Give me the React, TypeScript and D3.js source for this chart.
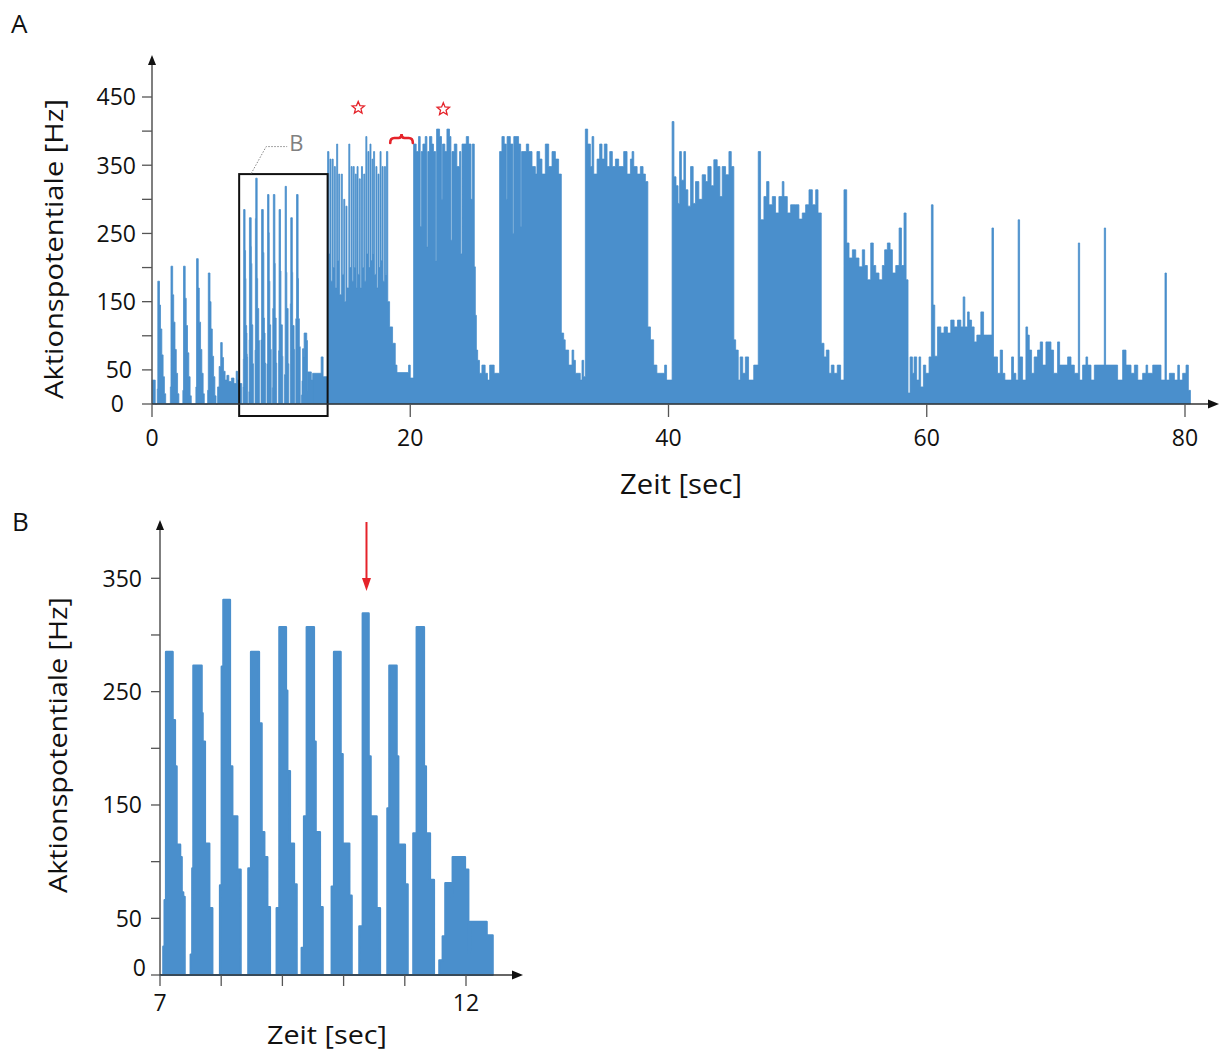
import React from "react";
import * as d3 from "d3";

type Pt = [number, number];

// ---------- Panel A data: firing-rate histogram (time [s], rate [Hz]) as step points ----------
const earlyA: Pt[] = [
  [0, 35], [0.25, 0],
  [0.41, 22], [0.45, 180], [0.58, 145], [0.66, 110], [0.76, 72], [0.86, 40], [0.96, 15], [1.06, 0],
  [1.42, 25], [1.47, 202], [1.6, 160], [1.68, 120], [1.78, 80], [1.88, 45], [1.98, 15], [2.08, 0],
  [2.39, 20], [2.44, 202], [2.57, 155], [2.65, 115], [2.75, 75], [2.85, 40], [2.95, 12], [3.04, 0],
  [3.4, 25], [3.45, 213], [3.58, 170], [3.66, 120], [3.76, 80], [3.86, 45], [3.96, 15], [4.05, 0],
  [4.31, 20], [4.36, 192], [4.49, 150], [4.57, 110], [4.67, 70], [4.77, 40], [4.87, 12], [4.96, 0],
  [5.08, 25], [5.2, 55], [5.32, 90], [5.44, 68], [5.54, 48], [5.66, 35], [5.8, 42], [5.95, 33],
  [6.15, 38], [6.35, 30], [6.52, 48], [6.62, 35], [6.78, 30], [6.95, 0],
];

// Bursts 7–12.4 s (shown enlarged in panel B)
const burstsB: Pt[] = [
  [7.0, 0],
  [7.054, 25], [7.075, 66], [7.098, 285], [7.207, 225], [7.245, 184], [7.272, 115], [7.33, 104], [7.355, 73], [7.38, 69], [7.403, 0],
  [7.501, 18], [7.527, 94], [7.545, 273], [7.681, 231], [7.697, 206], [7.735, 116], [7.806, 59], [7.855, 0],
  [7.98, 79], [8.008, 272], [8.035, 331], [8.144, 184], [8.182, 140], [8.264, 93], [8.318, 0],
  [8.443, 94], [8.487, 285], [8.618, 222], [8.661, 126], [8.705, 104], [8.754, 60], [8.797, 0],
  [8.906, 59], [8.95, 307], [9.059, 251], [9.081, 180], [9.124, 116], [9.19, 80], [9.233, 0],
  [9.315, 24], [9.353, 140], [9.397, 307], [9.516, 206], [9.544, 126], [9.614, 60], [9.658, 0],
  [9.805, 78], [9.843, 285], [9.952, 195], [9.985, 116], [10.094, 70], [10.132, 0],
  [10.257, 43], [10.312, 319], [10.41, 193], [10.442, 140], [10.54, 59], [10.595, 0],
  [10.715, 147], [10.747, 273], [10.867, 193], [10.894, 115], [11.003, 80], [11.047, 0],
  [11.139, 125], [11.194, 307], [11.314, 184], [11.346, 125], [11.412, 84], [11.477, 0],
  [11.564, 13], [11.619, 34], [11.662, 81], [11.755, 69], [11.782, 104], [11.984, 93], [12.038, 20],
  [12.065, 47], [12.338, 35], [12.436, 0],
];

const gapA: Pt[] = [[12.44, 45], [13.1, 69], [13.25, 40]];

const trainA: Pt[] = [
  [13.6, 370], [13.7, 220], [13.78, 359], [13.86, 180], [13.95, 359], [14.03, 200], [14.12, 348], [14.2, 170],
  [14.3, 381], [14.38, 210], [14.46, 337], [14.54, 160], [14.66, 337], [14.74, 190], [14.85, 300], [14.93, 150],
  [15.02, 290], [15.1, 170], [15.24, 381], [15.32, 200], [15.42, 348], [15.5, 180], [15.58, 348], [15.66, 200],
  [15.74, 337], [15.82, 170], [15.88, 348], [15.96, 190], [16.05, 330], [16.13, 170], [16.22, 348], [16.3, 200],
  [16.4, 337], [16.48, 180], [16.56, 392], [16.64, 220], [16.72, 370], [16.8, 200], [16.88, 381], [16.96, 210],
  [17.04, 359], [17.1, 220], [17.16, 370], [17.24, 190], [17.34, 348], [17.42, 170], [17.5, 337], [17.58, 200],
  [17.66, 370], [17.74, 210], [17.82, 348], [17.9, 180], [18.0, 348], [18.08, 190], [18.16, 370], [18.26, 150],
  [18.4, 113], [18.63, 89], [18.84, 57], [18.97, 46], [19.87, 57], [20.0, 38],
];

const block2A: Pt[] = [
  [20.26, 381], [20.46, 370], [20.64, 392], [20.77, 260], [20.85, 370], [20.98, 381], [21.16, 392], [21.29, 230],
  [21.36, 370], [21.49, 392], [21.67, 381], [21.8, 370], [21.96, 210], [22.04, 403], [22.27, 392], [22.42, 300],
  [22.5, 381], [22.68, 370], [22.84, 403], [23.04, 392], [23.15, 240], [23.23, 370], [23.41, 381], [23.61, 348],
  [23.82, 370], [23.92, 220], [24.01, 381], [24.34, 392], [24.52, 381], [24.7, 300], [24.8, 381],
  [24.96, 201], [25.04, 130], [25.12, 79], [25.22, 64], [25.36, 45], [25.55, 57], [25.8, 45], [25.98, 35],
  [26.15, 57], [26.5, 45],
];

const block3A: Pt[] = [
  [26.92, 370], [27.1, 392], [27.28, 381], [27.44, 300], [27.5, 392], [27.75, 381], [27.95, 250], [28.02, 392],
  [28.39, 381], [28.55, 260], [28.62, 370], [28.99, 381], [29.17, 370], [29.43, 348], [29.69, 337], [29.81, 370],
  [30.02, 359], [30.2, 337], [30.46, 381], [30.72, 348], [30.98, 370], [31.24, 359], [31.49, 337],
  [31.7, 104], [31.88, 94], [32.0, 79], [32.27, 57], [32.53, 79], [32.66, 64], [32.79, 45], [33.17, 35],
  [33.3, 64], [33.43, 40],
];

const block4A: Pt[] = [
  [33.56, 403], [33.74, 381], [33.95, 348], [34.08, 392], [34.21, 337], [34.47, 359], [34.67, 381], [34.85, 359],
  [35.03, 381], [35.24, 348], [35.45, 370], [35.65, 348], [35.89, 359], [36.14, 348], [36.4, 348], [36.53, 370],
  [36.79, 337], [37.05, 359], [37.18, 370], [37.31, 348], [37.57, 337], [37.82, 348], [38.03, 337], [38.21, 326],
  [38.4, 113], [38.6, 94], [38.85, 57], [39.1, 45], [39.7, 57], [39.85, 35],
];

const block5A: Pt[] = [
  [40.28, 414], [40.42, 333], [40.58, 320], [40.74, 294], [40.86, 370], [41.0, 328], [41.19, 370], [41.32, 314],
  [41.5, 290], [41.71, 348], [41.91, 294], [42.09, 326], [42.35, 300], [42.61, 336], [42.87, 326], [43.05, 348],
  [43.3, 320], [43.51, 358], [43.77, 348], [43.98, 304], [44.16, 348], [44.42, 336], [44.68, 370], [44.86, 348],
  [45.06, 94], [45.2, 79], [45.4, 35], [45.55, 69], [45.75, 45], [45.95, 69], [46.2, 35], [46.6, 57],
];

const block6A: Pt[] = [
  [46.95, 370], [47.13, 270], [47.39, 304], [47.6, 326], [47.78, 292], [48.04, 304], [48.29, 280], [48.55, 304],
  [48.81, 326], [48.94, 304], [49.2, 280], [49.46, 292], [49.84, 292], [50.1, 271], [50.36, 280], [50.62, 292],
  [50.88, 314], [51.14, 292], [51.4, 314], [51.58, 280],
  [51.83, 89], [52.04, 69], [52.22, 79], [52.43, 45], [52.61, 57], [52.82, 45], [53.07, 57], [53.33, 35],
];

const block7A: Pt[] = [
  [53.59, 314], [53.8, 236], [53.98, 214], [54.24, 226], [54.5, 214], [54.75, 201], [55.01, 226], [55.19, 203],
  [55.4, 182], [55.66, 236], [55.86, 203], [56.05, 192], [56.3, 182], [56.56, 203], [56.74, 226], [56.95, 236],
  [57.16, 226], [57.34, 192], [57.6, 203], [57.86, 258], [58.04, 203], [58.24, 280], [58.4, 182],
  [58.55, 16], [58.71, 69], [58.89, 45], [59.02, 69], [59.22, 35], [59.4, 69], [59.53, 25], [59.74, 57],
  [59.92, 45], [60.18, 69], [60.36, 292],
];

const block8A: Pt[] = [
  [60.49, 145], [60.62, 70], [60.83, 113], [61.09, 104], [61.34, 113], [61.6, 104], [61.86, 123], [62.12, 113],
  [62.38, 123], [62.64, 113], [62.82, 157], [62.95, 113], [63.16, 135], [63.29, 123], [63.47, 113], [63.67, 91],
  [63.88, 101], [64.19, 135], [64.4, 101], [64.71, 101], [65.05, 258], [65.17, 69],
];

const tailA: Pt[] = [
  [65.48, 45], [65.69, 79], [65.87, 45], [66.05, 35], [66.57, 69], [66.72, 45], [66.9, 35], [67.08, 270],
  [67.19, 69], [67.42, 35], [67.68, 113], [67.81, 101], [67.94, 79], [68.12, 45], [68.32, 69], [68.58, 79],
  [68.79, 91], [68.97, 57], [69.23, 91], [69.62, 79], [69.82, 45], [70.13, 91], [70.29, 57], [70.91, 69],
  [71.17, 57], [71.43, 45], [71.74, 236], [71.84, 35], [72.07, 57], [72.33, 69], [72.46, 57], [72.72, 35],
  [72.98, 57], [73.75, 258], [73.85, 57], [74.78, 35], [75.17, 79], [75.43, 57], [75.82, 45], [76.08, 57],
  [76.34, 35], [76.72, 45], [76.98, 57], [77.11, 45], [77.5, 57], [78.14, 35], [78.45, 192], [78.56, 35],
  [78.79, 45], [79.18, 35], [79.44, 57], [79.57, 35], [79.82, 45], [80.08, 57], [80.26, 20], [80.42, 0],
];

// ---------- axes ----------
const aTicksX = [0, 20, 40, 60, 80];
const aTicksY = [0, 50, 100, 150, 200, 250, 300, 350, 400, 450];
const aLabelsY = [0, 50, 150, 250, 350, 450];
const bTicksX = [7, 8, 9, 10, 11, 12];
const bLabelsX = [7, 12];
const bTicksY = [0, 50, 100, 150, 200, 250, 300, 350];
const bLabelsY = [0, 50, 150, 250, 350];

// annotations (time, Hz)
const starsA: Pt[] = [[15.97, 434], [22.56, 432]];
const braceA = { t0: 18.45, t1: 20.2, hz: 390 };
const boxA = { t0: 6.75, t1: 13.6, hzTop: 337, hzBottom: -17.6 };
const arrowB = { t: 10.374 };

const BLUE = "#4a8fcc";
const RED = "#e5232a";
const AXIS = "#555";
const FONT = "'Open Sans', 'Noto Sans', sans-serif";

function starPath(cx: number, cy: number, R: number, r: number) {
  const pts: string[] = [];
  for (let i = 0; i < 10; i++) {
    const ang = -Math.PI / 2 + (i * Math.PI) / 5;
    const rad = i % 2 === 0 ? R : r;
    pts.push(`${cx + rad * Math.cos(ang)},${cy + rad * Math.sin(ang)}`);
  }
  return "M" + pts.join("L") + "Z";
}

export default function App() {
  const xA = d3.scaleLinear().domain([0, 80]).range([152, 1185]);
  const yA = d3.scaleLinear().domain([0, 450]).range([404, 97]);
  const xB = d3.scaleLinear().domain([7, 12]).range([160, 466]);
  const yB = d3.scaleLinear().domain([0, 350]).range([975, 578.3]);

  const seriesA: Pt[] = [
    ...earlyA, ...burstsB, ...gapA, ...trainA, ...block2A, ...block3A, ...block4A,
    ...block5A, ...block6A, ...block7A, ...block8A, ...tailA,
  ].sort((a, b) => a[0] - b[0]);

  const areaA = d3.area<Pt>()
    .x((d) => xA(d[0]))
    .y0(yA(0))
    .y1((d) => yA(d[1]))
    .curve(d3.curveStepAfter);

  const areaB = d3.area<Pt>()
    .x((d) => xB(d[0]))
    .y0(yB(0))
    .y1((d) => yB(d[1]))
    .curve(d3.curveStepAfter);

  const xA0 = xA(0), yA0 = yA(0);
  const xB0 = xB(7), yB0 = yB(0);

  const bx0 = xA(boxA.t0), bx1 = xA(boxA.t1);
  const by0 = yA(boxA.hzTop), by1 = yA(boxA.hzBottom);

  const brX0 = xA(braceA.t0), brX1 = xA(braceA.t1), brY = yA(braceA.hz);
  const brM = (brX0 + brX1) / 2;
  const bracePath =
    `M${brX0},${brY + 5} Q${brX0},${brY} ${brX0 + 4},${brY} L${brM - 3},${brY} ` +
    `Q${brM},${brY} ${brM},${brY - 4} Q${brM},${brY} ${brM + 3},${brY} ` +
    `L${brX1 - 4},${brY} Q${brX1},${brY} ${brX1},${brY + 5}`;

  const arX = xB(arrowB.t);

  return (
    <svg
      width={1220}
      height={1053}
      viewBox="0 0 1220 1053"
      style={{ position: "absolute", left: 0, top: 0, background: "#fff" }}
      fontFamily={FONT}
    >
      {/* ---------------- Panel A ---------------- */}
      <text x={11} y={33} fontSize={26} fill="#111">A</text>

      <path d={areaA(seriesA) || ""} fill={BLUE} stroke={BLUE} strokeWidth={0.8} />

      {/* box B */}
      <rect x={bx0} y={by0} width={bx1 - bx0} height={by1 - by0} fill="none" stroke="#111" strokeWidth={2} />
      <polyline
        points={`${bx0 + 12},${by0 - 0.5} ${bx0 + 27},${by0 - 27.5} ${bx0 + 48},${by0 - 27.5}`}
        fill="none" stroke="#888" strokeWidth={1} strokeDasharray="1.5,1.5"
      />
      <text x={bx0 + 50} y={by0 - 23} fontSize={22} fill="#808080">B</text>

      {/* red annotations */}
      {starsA.map((s, i) => (
        <path key={i} d={starPath(xA(s[0]), yA(s[1]), 6.5, 2.9)} fill="none" stroke={RED} strokeWidth={1.3} />
      ))}
      <path d={bracePath} fill="none" stroke={RED} strokeWidth={2.6} strokeLinecap="round" />

      {/* axes A */}
      <line x1={xA0} y1={yA0} x2={xA0} y2={62} stroke={AXIS} strokeWidth={1.5} />
      <polygon points={`${xA0},55 ${xA0 - 4},65 ${xA0 + 4},65`} fill="#111" />
      <line x1={xA0} y1={yA0} x2={1210} y2={yA0} stroke="#333" strokeWidth={1.5} />
      <polygon points={`1219,${yA0} 1208,${yA0 - 4.5} 1208,${yA0 + 4.5}`} fill="#111" />
      {aTicksY.map((v) => (
        <line key={v} x1={xA0 - 10} x2={xA0} y1={yA(v)} y2={yA(v)} stroke={AXIS} strokeWidth={1.3} />
      ))}
      {aLabelsY.map((v) => (
        <text key={v} x={v === 0 ? 124 : v === 50 ? 132 : 136} y={yA(v)} dy="0.36em"
          textAnchor="end" fontSize={23} fill="#111">{v}</text>
      ))}
      {aTicksX.map((v) => (
        <g key={v}>
          <line x1={xA(v)} x2={xA(v)} y1={yA0} y2={yA0 + 13} stroke={AXIS} strokeWidth={1.3} />
          <text x={xA(v)} y={438} dy="0.36em" textAnchor="middle" fontSize={23} fill="#111">{v}</text>
        </g>
      ))}
      <text x={681} y={484} dy="0.36em" textAnchor="middle" fontSize={27} fill="#111"
        textLength={122} lengthAdjust="spacingAndGlyphs">Zeit [sec]</text>
      <text transform="translate(63,249) rotate(-90)" textAnchor="middle" fontSize={25} fill="#111"
        textLength={300} lengthAdjust="spacingAndGlyphs">Aktionspotentiale [Hz]</text>

      {/* ---------------- Panel B ---------------- */}
      <text x={12} y={531} fontSize={26} fill="#111">B</text>

      <path d={areaB(burstsB) || ""} fill={BLUE} stroke={BLUE} strokeWidth={2.2} strokeLinejoin="round" />

      {/* red arrow */}
      <line x1={arX} x2={arX} y1={522} y2={580} stroke={RED} strokeWidth={2} />
      <polygon points={`${arX},591 ${arX - 4.5},578 ${arX + 4.5},578`} fill={RED} />

      {/* axes B */}
      <line x1={xB0} y1={yB0} x2={xB0} y2={528} stroke={AXIS} strokeWidth={1.5} />
      <polygon points={`${xB0},520 ${xB0 - 4},530 ${xB0 + 4},530`} fill="#111" />
      <line x1={xB0} y1={yB0} x2={514} y2={yB0} stroke="#333" strokeWidth={1.5} />
      <polygon points={`523,${yB0} 512,${yB0 - 4.5} 512,${yB0 + 4.5}`} fill="#111" />
      {bTicksY.map((v) => (
        <line key={v} x1={xB0 - 9} x2={xB0} y1={yB(v)} y2={yB(v)} stroke={AXIS} strokeWidth={1.3} />
      ))}
      {bLabelsY.map((v) => (
        <text key={v} x={v === 0 ? 146 : 142} y={yB(v) - (v === 0 ? 7 : 0)} dy="0.36em"
          textAnchor="end" fontSize={23} fill="#111">{v}</text>
      ))}
      {bTicksX.map((v) => (
        <line key={v} x1={xB(v)} x2={xB(v)} y1={yB0} y2={yB0 + 11} stroke={AXIS} strokeWidth={1.3} />
      ))}
      {bLabelsX.map((v) => (
        <text key={v} x={xB(v)} y={1003} dy="0.36em" textAnchor="middle" fontSize={23} fill="#111">{v}</text>
      ))}
      <text x={327} y={1035} dy="0.36em" textAnchor="middle" fontSize={26} fill="#111"
        textLength={120} lengthAdjust="spacingAndGlyphs">Zeit [sec]</text>
      <text transform="translate(67,745) rotate(-90)" textAnchor="middle" fontSize={25} fill="#111"
        textLength={296} lengthAdjust="spacingAndGlyphs">Aktionspotentiale [Hz]</text>
    </svg>
  );
}
